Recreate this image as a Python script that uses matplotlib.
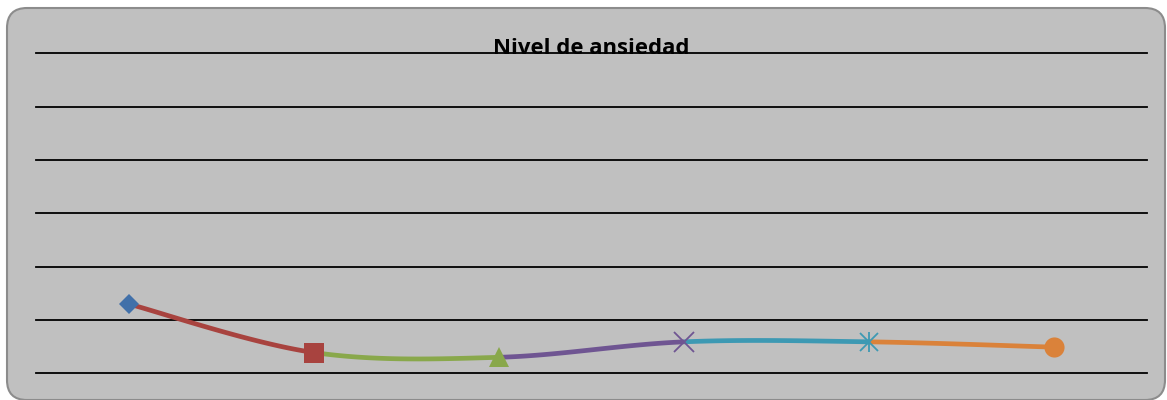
import numpy as np
import matplotlib.pyplot as plt
from matplotlib.patches import FancyBboxPatch

# nivel de ansiedad por punto (una unidad por línea de la cuadrícula)
levels = [1.30, 0.39, 0.30, 0.59, 0.59, 0.49]
point_colors = ['#4170a9', '#a8433f', '#89a84b', '#6f5592', '#3d99b3', '#da823a']
point_markers = ['D', 's', '^', 'x', 'star', 'o']
title = "Nivel de ansiedad"
y_max = 6


def bezier_segment(p0, c1, c2, p1, n=60):
  t = np.linspace(0, 1, n)[:, None]
  return ((1-t)**3)*p0 + 3*((1-t)**2)*t*c1 + 3*(1-t)*(t**2)*c2 + (t**3)*p1


fig = plt.figure(figsize=(11.67, 4.0), dpi=100)
fig.patch.set_facecolor('white')

# gray rounded chart area
box = FancyBboxPatch((0.07, 0.0), 11.58, 3.92,
                     boxstyle="round,pad=0,rounding_size=0.2",
                     transform=fig.dpi_scale_trans,
                     facecolor='#c0c0c0', edgecolor='#8c8c8c', linewidth=1.5,
                     zorder=-5)
fig.patches.append(box)

ax = fig.add_axes([36/1167, 26.7/400, 1111/1167, 320/400])
ax.patch.set_visible(False)
for s in ax.spines.values():
  s.set_visible(False)
ax.set_xlim(-0.5, len(levels) - 0.5)
ax.set_ylim(0, y_max)
ax.set_xticks([])
ax.set_yticks([])
for g in range(y_max + 1):
  ax.axhline(g, color='black', linewidth=1.3, zorder=1, clip_on=False)

# smoothed line, each segment coloured like the point it ends on
pts = np.column_stack([np.arange(len(levels)), levels]).astype(float)
n = len(pts)
for i in range(n - 1):
  prev = pts[i-1] if i > 0 else pts[i]
  nxt = pts[i+2] if i + 2 < n else pts[i+1]
  c1 = pts[i] + (pts[i+1] - prev) / 6.0
  c2 = pts[i+1] - (nxt - pts[i]) / 6.0
  seg = bezier_segment(pts[i], c1, c2, pts[i+1])
  ax.plot(seg[:, 0], seg[:, 1], color=point_colors[i+1], linewidth=3.4,
          solid_capstyle='butt', zorder=2)

for i, (v, c, m) in enumerate(zip(levels, point_colors, point_markers)):
  if m == 'D':
    ax.plot(i, v, 'D', color=c, markersize=10, markeredgewidth=0, zorder=4)
  elif m == 's':
    ax.plot(i, v, 's', color=c, markersize=14.5, markeredgewidth=0, zorder=4)
  elif m == '^':
    ax.plot(i, v, '^', color=c, markersize=14.5, markeredgewidth=0, zorder=4)
  elif m == 'x':
    ax.plot(i, v, 'x', color=c, markersize=14, markeredgewidth=1.3, zorder=4)
  elif m == 'star':
    ax.plot(i, v, 'x', color=c, markersize=13, markeredgewidth=1.3, zorder=4)
    ax.plot(i, v, '|', color=c, markersize=15, markeredgewidth=1.3, zorder=4)
  else:
    ax.plot(i, v, 'o', color=c, markersize=14.5, markeredgewidth=0, zorder=4)

# title sits on the top gridline, drawn beneath it
fig.text(591/1167, 1 - 53.6/400, title, ha='center', va='baseline',
         fontsize=15.9, fontweight='bold', family='Open Sans', zorder=-1)

fig.savefig('out.png', dpi=100)
